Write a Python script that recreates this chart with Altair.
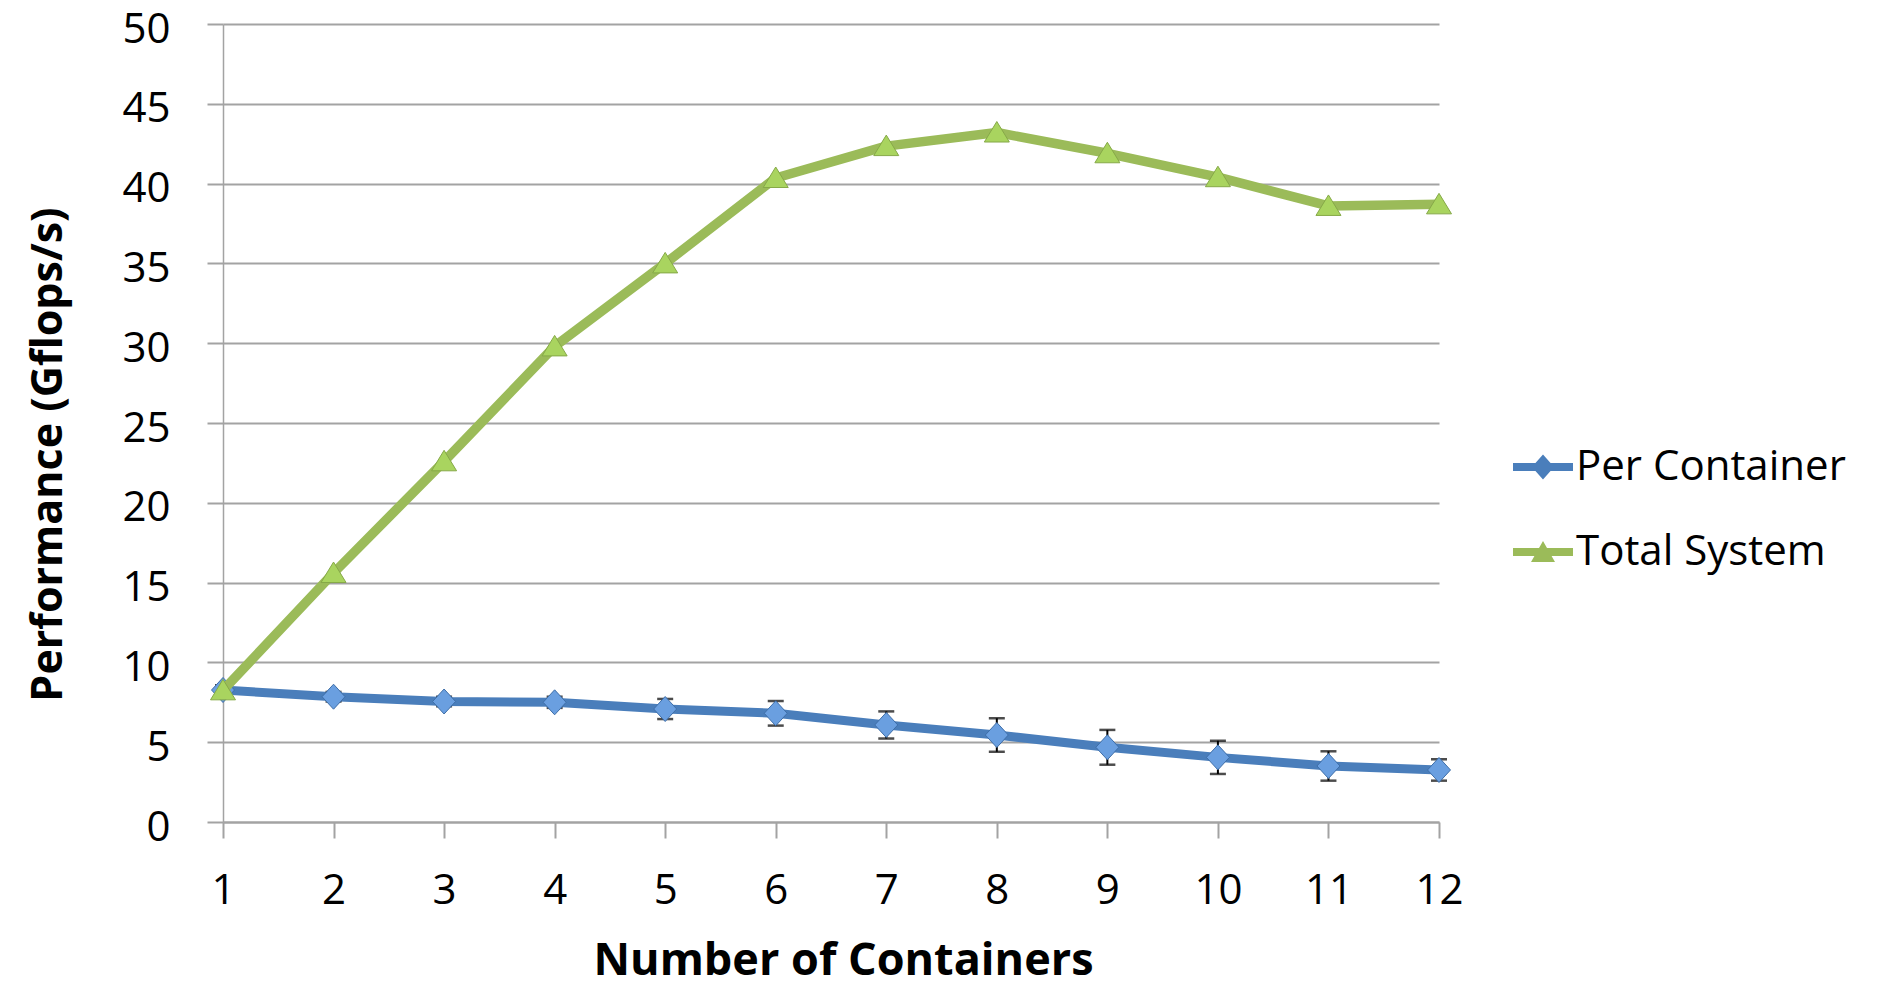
import altair as alt
import pandas as pd

# ---- data ----
containers = [1, 2, 3, 4, 5, 6, 7, 8, 9, 10, 11, 12]
per_container = [8.27, 7.85, 7.55, 7.50, 7.08, 6.81, 6.08, 5.45, 4.68, 4.05, 3.51, 3.26]
per_container_err = [0.30, 0.30, 0.30, 0.35, 0.63, 0.77, 0.85, 1.05, 1.09, 1.04, 0.92, 0.67]
total_system = [8.25, 15.6, 22.6, 29.8, 35.0, 40.35, 42.35, 43.2, 41.9, 40.4, 38.6, 38.7]
series_names = ["Per Container", "Total System"]
line_colors = ["#4A7EBB", "#9BBB59"]
y_ticks = [0, 5, 10, 15, 20, 25, 30, 35, 40, 45, 50]

rows = []
for c, v, e in zip(containers, per_container, per_container_err):
    rows.append({"containers": c, "value": v, "err": e, "series": series_names[0]})
for c, v in zip(containers, total_system):
    rows.append({"containers": c, "value": v, "err": 0.0, "series": series_names[1]})
df = pd.DataFrame(rows)

FONT = "Open Sans"
GRAY = "#A3A3A3"

DIAMOND = "M0,-1.25L1.15,0L0,1.25L-1.15,0Z"
TRIANGLE = "M0,-1.1L1.25,0.95L-1.25,0.95Z"
LEG_DIAMOND = "M-1,-0.135H1V0.135H-1Z M0,-0.42L0.37,0L0,0.42L-0.37,0Z"
LEG_TRIANGLE = "M-1,-0.135H1V0.135H-1Z M0,-0.37L0.4,0.33L-0.4,0.33Z"

x_scale = alt.Scale(domain=[1, 12], nice=False, zero=False)
y_scale = alt.Scale(domain=[0, 50], nice=False, zero=True)
color_scale = alt.Scale(domain=series_names, range=line_colors)

x_axis = alt.Axis(
    values=containers, title="Number of Containers", grid=False, format="d",
    labelFlush=False, labelOverlap=False,
    tickSize=16, tickColor=GRAY, tickWidth=2, domainColor=GRAY, domainWidth=2,
    labelFont=FONT, labelFontSize=42, labelColor="black", labelBaseline="middle", labelPadding=52,
    titleFont=FONT, titleFontSize=45, titleFontWeight="bold", titleColor="black",
    titleX=620, titleY=152, titleBaseline="alphabetic", titleAlign="center",
)
y_axis = alt.Axis(
    values=y_ticks, title="Performance (Gflops/s)", grid=True, gridColor=GRAY, gridWidth=2,
    labelFlush=False, labelOverlap=False,
    tickSize=16, tickColor=GRAY, tickWidth=2, domainColor=GRAY, domainWidth=1.5,
    labelFont=FONT, labelFontSize=42, labelColor="black", labelPadding=37, labelOffset=5,
    titleFont=FONT, titleFontSize=43, titleFontWeight="bold", titleColor="black",
    titleX=-175, titleY=430, titleBaseline="middle", titleAlign="center",
)

base = alt.Chart(df)
X = alt.X("containers:Q", scale=x_scale, axis=x_axis)


def Y(field):
    return alt.Y(field, type="quantitative", scale=y_scale, axis=y_axis)


pc = base.transform_filter(alt.datum.series == series_names[0])
ts = base.transform_filter(alt.datum.series == series_names[1])

pc_line = pc.mark_line(strokeWidth=9, strokeCap="round", strokeJoin="round", color=line_colors[0]).encode(
    x=X, y=Y("value")
)
ts_line = ts.mark_line(strokeWidth=9.5, strokeCap="round", strokeJoin="round", color=line_colors[1]).encode(
    x=X, y=Y("value")
)

err_base = pc.transform_calculate(lo="datum.value - datum.err", hi="datum.value + datum.err")
err_rule = err_base.mark_rule(color="black", strokeWidth=2).encode(x=X, y=Y("lo"), y2="hi:Q")
cap_lo = err_base.mark_tick(color="black", thickness=2.5, size=16, orient="horizontal").encode(x=X, y=Y("lo"))
cap_hi = err_base.mark_tick(color="black", thickness=2.5, size=16, orient="horizontal").encode(x=X, y=Y("hi"))

pc_pts = pc.mark_point(
    shape=DIAMOND, size=400, filled=True, fill="#6A9FE0", stroke="#3E6EA8", strokeWidth=1, opacity=1
).encode(x=X, y=Y("value"))

ts_pts = ts.mark_point(
    shape=TRIANGLE, size=400, filled=True, fill="#A9D45F", stroke="#86A948", strokeWidth=1, opacity=1
).encode(x=X, y=Y("value"))

legend_props = dict(
    title=None, orient="none", legendX=1290, legendY=413, symbolSize=3600,
    labelFont=FONT, labelFontSize=42, labelColor="black", labelOffset=3, labelLimit=0,
    rowPadding=34, padding=0, symbolOpacity=1, symbolStrokeWidth=0,
)
legend_layer = base.mark_point(filled=True, opacity=0, size=10).encode(
    x=X,
    y=Y("value"),
    color=alt.Color("series:N", scale=color_scale, legend=alt.Legend(**legend_props)),
    shape=alt.Shape("series:N", scale=alt.Scale(domain=series_names, range=[LEG_DIAMOND, LEG_TRIANGLE]),
                    legend=alt.Legend(**legend_props)),
)

chart = alt.layer(pc_line, err_rule, cap_lo, cap_hi, pc_pts, ts_line, ts_pts, legend_layer).properties(
    width=1216, height=798,
    autosize=alt.AutoSizeParams(type="none"),
    padding={"left": 215, "top": 16, "right": 439, "bottom": 154},
    background="white",
).configure_view(stroke=None)

chart.save("out.html", embed_options={"renderer": "svg", "actions": False})
